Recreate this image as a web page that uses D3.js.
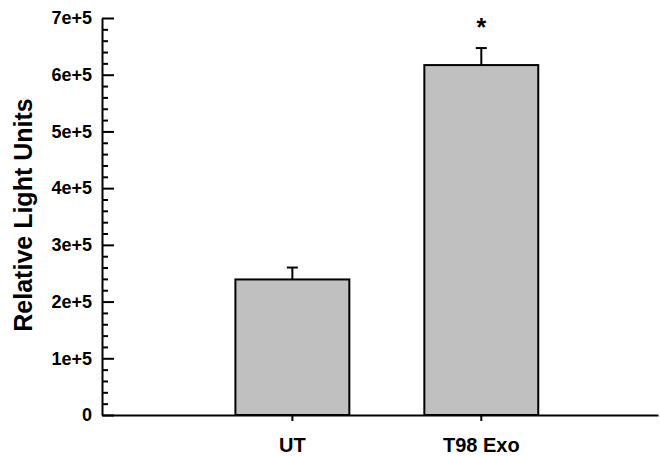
<!DOCTYPE html>
<html>
<head>
<meta charset="utf-8">
<script src="https://cdn.jsdelivr.net/npm/d3@7"></script>
<style>
  body { margin: 0; background: #fff; }
  svg text { font-family: "Liberation Sans", Arial, sans-serif; font-weight: bold; fill: #000; }
</style>
</head>
<body>
<svg id="chart" width="660" height="456"></svg>
<script>
// data
var categories = ['UT', 'T98 Exo'];
var means = [239000, 617000];
var errors = [21000, 30000];
var marks = ['', '*'];
var y_ticks = [0, 100000, 200000, 300000, 400000, 500000, 600000, 700000];
var y_tick_labels = ['0', '1e+5', '2e+5', '3e+5', '4e+5', '5e+5', '6e+5', '7e+5'];

var svg = d3.select('#chart');

var x_left = 102, x_right = 658;
var y_bottom = 415, y_top = 18;

var x = d3.scaleBand()
  .domain(categories)
  .range([x_left, x_right])
  .paddingInner(0.397)
  .paddingOuter(0.67)
  .align(0.527);

var y = d3.scaleLinear()
  .domain([0, 700000])
  .range([y_bottom, y_top]);

// bars
svg.selectAll('.bar')
  .data(categories)
  .enter()
  .append('rect')
  .classed('bar', true)
  .attr('x', function(d){ return x(d); })
  .attr('y', function(d, i){ return y(means[i]); })
  .attr('width', x.bandwidth())
  .attr('height', function(d, i){ return y(0) - y(means[i]); })
  .style('fill', '#c0c0c0')
  .style('stroke', '#000')
  .style('stroke-width', 2);

// error bars (upper only)
var cap_w = 11;
categories.forEach(function(d, i){
  var cx = x(d) + x.bandwidth()/2;
  svg.append('line')
    .attr('x1', cx).attr('x2', cx)
    .attr('y1', y(means[i])).attr('y2', y(means[i] + errors[i]))
    .style('stroke', '#000').style('stroke-width', 2);
  svg.append('line')
    .attr('x1', cx - cap_w/2).attr('x2', cx + cap_w/2)
    .attr('y1', y(means[i] + errors[i])).attr('y2', y(means[i] + errors[i]))
    .style('stroke', '#000').style('stroke-width', 2);
  if (marks[i]) {
    svg.append('text')
      .attr('x', cx)
      .attr('y', y(means[i] + errors[i]) - 12)
      .attr('text-anchor', 'middle')
      .style('font-size', '25px')
      .text(marks[i]);
  }
});

// minor y ticks
var minor = d3.range(0, 700001, 20000).filter(function(v){ return v % 100000 !== 0; });
svg.append('g')
  .attr('transform', 'translate(' + x_left + ',0)')
  .call(d3.axisLeft(y).tickValues(minor).tickSizeInner(-6).tickSizeOuter(0).tickFormat(''))
  .call(function(g){
    g.select('.domain').remove();
    g.selectAll('line').style('stroke', '#000').style('stroke-width', 2);
  });

// major y axis
svg.append('g')
  .attr('transform', 'translate(' + x_left + ',0)')
  .call(d3.axisLeft(y)
    .tickValues(y_ticks)
    .tickSizeInner(-12)
    .tickSizeOuter(0)
    .tickPadding(10)
    .tickFormat(function(d, i){ return y_tick_labels[i]; }))
  .call(function(g){
    g.select('.domain').style('stroke', '#000').style('stroke-width', 2);
    g.selectAll('line').style('stroke', '#000').style('stroke-width', 2);
    g.selectAll('text').style('font-size', '18px').attr('font-family', null);
  });

// x axis
var x_axis = svg.append('g')
  .attr('transform', 'translate(0,' + y_bottom + ')')
  .call(d3.axisBottom(x).tickSizeInner(6).tickSizeOuter(0).tickPadding(17))
  .call(function(g){
    g.select('.domain').style('stroke', '#000').style('stroke-width', 2);
    g.selectAll('line').style('stroke', '#000').style('stroke-width', 2);
    g.selectAll('text').style('font-size', '20px').attr('font-family', null);
  });

// y title
svg.append('text')
  .attr('transform', 'translate(32,215) rotate(-90)')
  .attr('text-anchor', 'middle')
  .style('font-size', '25px')
  .text('Relative Light Units');
</script>
</body>
</html>
